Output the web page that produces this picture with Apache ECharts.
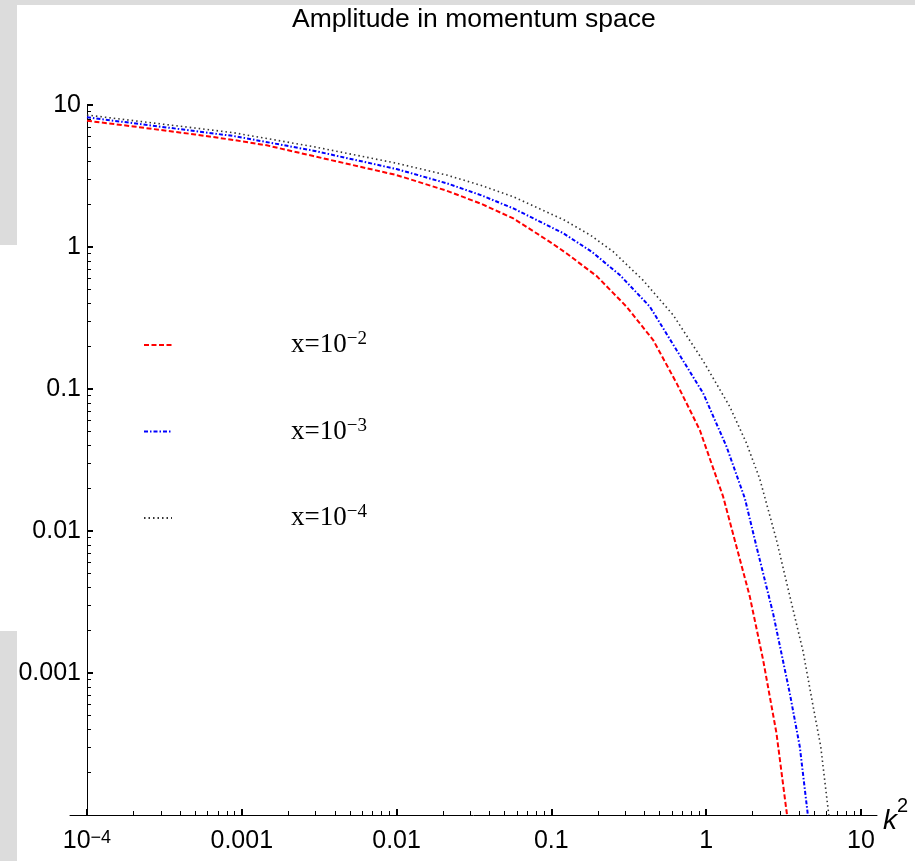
<!DOCTYPE html>
<html><head><meta charset="utf-8">
<script src="https://cdn.jsdelivr.net/npm/echarts@6/dist/echarts.min.js"></script>
<style>html,body{margin:0;padding:0;background:#fff}#c{width:915px;height:861px}</style>
</head><body><div id="c"></div>
<script>
// ---- data ----
const titleText = 'Amplitude in momentum space';
const seriesNames = ['x=10^-2', 'x=10^-3', 'x=10^-4'];
const legendBase = 'x=10';
const legendExp = ['\u22122', '\u22123', '\u22124'];

const redK2 = [1e-4, 2e-4, 5e-4, 8.84e-4, 1.45e-3, 2.90e-3, 0.01, 0.0211, 0.035, 0.0568, 0.1, 0.1256, 0.196, 0.306, 0.455, 0.644, 0.910, 1.288, 1.571, 1.915, 2.333, 2.848, 3.30, 3.5];
const redAmp = [7.75, 7.06, 6.20, 5.67, 5.20, 4.37, 3.21, 2.49, 2.02, 1.59, 1.07, 0.900, 0.625, 0.380, 0.221, 0.110, 0.0514, 0.01745, 0.00775, 0.00345, 0.00124, 3.76e-4, 1.08e-4, 6.8e-5];

const blueK2 = [1e-4, 2e-4, 5e-4, 8.84e-4, 2.90e-3, 0.01, 0.0211, 0.035, 0.0568, 0.1194, 0.182, 0.277, 0.433, 0.644, 0.957, 1.354, 1.778, 2.116, 2.707, 3.470, 4.027, 4.555, 5];
const blueAmp = [8.19, 7.44, 6.55, 6.05, 4.77, 3.54, 2.81, 2.32, 1.87, 1.25, 0.927, 0.635, 0.380, 0.188, 0.0933, 0.0393, 0.0170, 0.00775, 0.00263, 7.2e-4, 3.03e-4, 9.7e-5, 4.2e-5];

const blackK2 = [1e-4, 2e-4, 5e-4, 8.84e-4, 2.90e-3, 0.01, 0.0211, 0.035, 0.0568, 0.1194, 0.18, 0.251, 0.392, 0.612, 0.957, 1.422, 1.823, 2.222, 2.848, 3.470, 4.228, 4.907, 5.50, 6.22, 7];
const blackAmp = [8.50, 7.76, 6.88, 6.38, 5.09, 3.89, 3.21, 2.72, 2.26, 1.56, 1.205, 0.927, 0.582, 0.332, 0.1575, 0.0750, 0.0415, 0.0232, 0.00864, 0.00349, 1.42e-3, 5.86e-4, 3.03e-4, 9.7e-5, 3.7e-5];

const xMajorTicks = [1e-4, 1e-3, 1e-2, 1e-1, 1, 10];
const xTickLabels = ['10^-4', '0.001', '0.01', '0.1', '1', '10'];
const yMajorTicks = [1e-3, 1e-2, 1e-1, 1, 10];
const yTickLabels = ['0.001', '0.01', '0.1', '1', '10'];
const minorMultipliers = [2, 3, 4, 5, 6, 7, 8, 9];
const xMinorDecades = [1e-4, 1e-3, 1e-2, 1e-1, 1];
const yMinorDecades = [1e-4, 1e-3, 1e-2, 1e-1, 1];

const xMin = 7.77e-5, xMax = 12.7;
const yMin = 1e-4, yMax = 10;

// ---- build ----
const minorOf = (decs) => decs.flatMap(d => minorMultipliers.map(m => +(d * m).toPrecision(6)));
const xMinor = minorOf(xMinorDecades);
const yMinor = minorOf(yMinorDecades);

const labelFor = (ticks, labels) => (v) => {
  for (let i = 0; i < ticks.length; i++) {
    if (Math.abs(Math.log10(v) - Math.log10(ticks[i])) < 1e-6) {
      const t = labels[i];
      if (t.indexOf('^') >= 0) {
        const p = t.split('^');
        return '{b|' + p[0] + '}{s|' + p[1].replace('-', '\u2212') + '}';
      }
      return t;
    }
  }
  return '';
};

const FONT = "'Liberation Sans', Arial, sans-serif";
const SERIF = "'Liberation Serif', 'Times New Roman', serif";
const labelRich = {
  b: { fontFamily: FONT, fontSize: 25, lineHeight: 25, color: '#000' },
  s: { fontFamily: FONT, fontSize: 18, lineHeight: 2, verticalAlign: 'top', color: '#000' }
};

const chart = echarts.init(document.getElementById('c'), null, { renderer: 'canvas' });

const mk = (k, a) => k.map((v, i) => [v, a[i]]);

chart.setOption({
  animation: false,
  backgroundColor: '#fff',
  title: {
    text: titleText, left: 292, top: 6, padding: 0,
    textStyle: { fontFamily: FONT, fontSize: 26.5, fontWeight: 'normal', color: '#000' }
  },
  grid: { left: 70, right: 38, top: 105, bottom: 46, containLabel: false, outerBoundsMode: 'none' },
  legend: {
    orient: 'vertical', left: 143, top: 330, padding: 0,
    itemWidth: 28, itemHeight: 14, itemGap: 58,
    data: seriesNames,
    itemStyle: { opacity: 0 },
    formatter: (name) => {
      const i = seriesNames.indexOf(name);
      return '{a|' + legendBase + '}{s|' + legendExp[i] + '}';
    },
    textStyle: {
      rich: {
        a: { fontFamily: SERIF, fontSize: 27, lineHeight: 30, color: '#000', padding: [0, 0, 0, 114] },
        s: { fontFamily: SERIF, fontSize: 19, lineHeight: 13, verticalAlign: 'top', color: '#000' }
      }
    }
  },
  xAxis: [
    {
      type: 'log', logBase: 10, min: xMin, max: xMax, position: 'bottom',
      axisLine: { show: true, lineStyle: { color: '#000', width: 1 } },
      axisTick: { show: true, inside: true, length: 6, lineStyle: { color: '#000', width: 2 }, customValues: xMajorTicks },
      axisLabel: { show: true, customValues: xMajorTicks, formatter: labelFor(xMajorTicks, xTickLabels), margin: 14,
        fontFamily: FONT, fontSize: 25, color: '#000', rich: labelRich },
      splitLine: { show: false },
      name: '{k|k}{s|2}', nameLocation: 'end', nameGap: 6,
      nameTextStyle: {
        padding: [12, 0, 0, 0],
        rich: {
          k: { fontFamily: FONT, fontStyle: 'italic', fontSize: 28, lineHeight: 50, color: '#000' },
          s: { fontFamily: FONT, fontSize: 20, lineHeight: 8, verticalAlign: 'top', color: '#000' }
        }
      }
    },
    {
      type: 'log', logBase: 10, min: xMin, max: xMax, position: 'bottom',
      axisLine: { show: false },
      axisTick: { show: true, inside: true, length: 4, lineStyle: { color: '#000', width: 1 }, customValues: xMinor },
      axisLabel: { show: false },
      splitLine: { show: false }
    }
  ],
  yAxis: [
    {
      type: 'log', logBase: 10, min: yMin, max: yMax, position: 'left', offset: -17,
      axisLine: { show: true, lineStyle: { color: '#000', width: 1 } },
      axisTick: { show: true, inside: true, length: 6, lineStyle: { color: '#000', width: 2 }, customValues: yMajorTicks },
      axisLabel: { show: true, customValues: yMajorTicks, formatter: labelFor(yMajorTicks, yTickLabels), margin: 6,
        fontFamily: FONT, fontSize: 25, color: '#000' },
      splitLine: { show: false }
    },
    {
      type: 'log', logBase: 10, min: yMin, max: yMax, position: 'left', offset: -17,
      axisLine: { show: false },
      axisTick: { show: true, inside: true, length: 4, lineStyle: { color: '#000', width: 1 }, customValues: yMinor },
      axisLabel: { show: false },
      splitLine: { show: false }
    }
  ],
  graphic: [
    { type: 'rect', shape: { x: 0, y: 0, width: 915, height: 5 }, style: { fill: '#dcdcdc' }, silent: true, z: -10 },
    { type: 'rect', shape: { x: 0, y: 0, width: 17, height: 245 }, style: { fill: '#dcdcdc' }, silent: true, z: -10 },
    { type: 'rect', shape: { x: 0, y: 631, width: 17, height: 230 }, style: { fill: '#dcdcdc' }, silent: true, z: -10 }
  ],
  series: [
    { name: seriesNames[0], type: 'line', xAxisIndex: 0, yAxisIndex: 0, data: mk(redK2, redAmp), symbol: 'none', smooth: false, clip: true,
      lineStyle: { color: '#ff0000', width: 2, type: [5, 2.5] }, itemStyle: { color: '#ff0000' } },
    { name: seriesNames[1], type: 'line', xAxisIndex: 0, yAxisIndex: 0, data: mk(blueK2, blueAmp), symbol: 'none', smooth: false, clip: true,
      lineStyle: { color: '#0000ff', width: 2, type: [4, 2, 1.5, 2] }, itemStyle: { color: '#0000ff' } },
    { name: seriesNames[2], type: 'line', xAxisIndex: 0, yAxisIndex: 0, data: mk(blackK2, blackAmp), symbol: 'none', smooth: false, clip: true,
      lineStyle: { color: '#333333', width: 1.6, type: [1.5, 3] }, itemStyle: { color: '#333333' } }
  ]
});
</script>
</body></html>
